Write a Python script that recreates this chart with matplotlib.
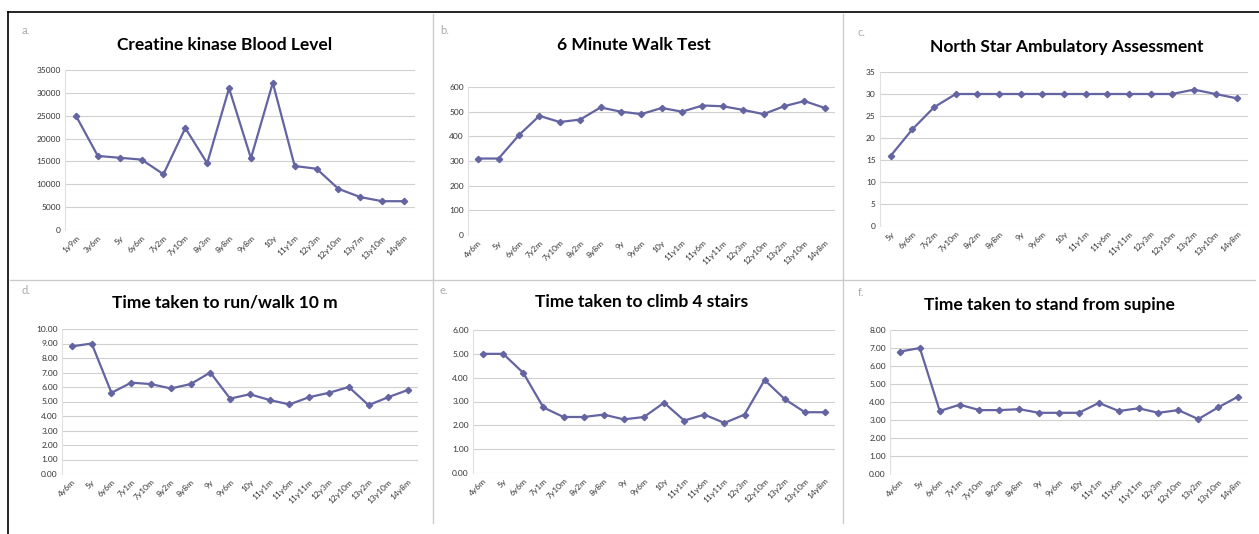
import numpy as np
import matplotlib
matplotlib.use("Agg")
from matplotlib import pyplot as plt

plt.rcParams['font.family'] = ['Lato', 'DejaVu Sans']

# data
ck_labels = ['1y9m','3y6m','5y','6y6m','7y2m','7y10m','8y3m','8y8m','9y8m','10y',
             '11y1m','12y3m','12y10m','13y7m','13y10m','14y8m']
ck_vals = [25000,16200,15800,15400,12200,22300,14600,31000,15700,32200,
           14000,13400,9000,7200,6300,6300]

walk_labels = ['4y6m','5y','6y6m','7y2m','7y10m','8y2m','8y8m','9y','9y6m','10y',
               '11y1m','11y6m','11y11m','12y3m','12y10m','13y2m','13y10m','14y8m']
walk_vals = [310,310,405,483,458,468,517,500,490,515,500,525,522,507,490,522,543,515]

nsaa_labels = ['5y','6y6m','7y2m','7y10m','8y2m','8y8m','9y','9y6m','10y','11y1m',
               '11y6m','11y11m','12y3m','12y10m','13y2m','13y10m','14y8m']
nsaa_vals = [16,22,27,30,30,30,30,30,30,30,30,30,30,30,31,30,29]

time_labels = ['4y6m','5y','6y6m','7y1m','7y10m','8y2m','8y8m','9y','9y6m','10y',
               '11y1m','11y6m','11y11m','12y3m','12y10m','13y2m','13y10m','14y8m']
run_vals = [8.8,9.0,5.6,6.3,6.2,5.9,6.2,7.0,5.2,5.5,5.1,4.8,5.3,5.6,6.0,4.75,5.3,5.8]
stairs_vals = [5.0,5.0,4.2,2.75,2.35,2.35,2.45,2.25,2.35,2.95,2.2,2.45,2.1,2.45,3.9,3.1,2.55,2.55]
stand_vals = [6.8,7.0,3.5,3.85,3.55,3.55,3.6,3.4,3.4,3.4,3.95,3.5,3.65,3.4,3.55,3.05,3.7,4.3]

W, H = 1259, 534
fig = plt.figure(figsize=(W/100, H/100), dpi=100)

def box(l, r, t, b):
    return [l/W, 1-b/H, (r-l)/W, (b-t)/H]

panels = [
    ('a.', 'Creatine kinase Blood Level', ck_labels, ck_vals, (0, 35000, 5000), '%d', box(65, 415, 70, 230), (225, 45)),
    ('b.', '6 Minute Walk Test', walk_labels, walk_vals, (0, 600, 100), '%d', box(468, 835, 87, 235), (634, 45)),
    ('c.', 'North Star Ambulatory Assessment', nsaa_labels, nsaa_vals, (0, 35, 5), '%d', box(880, 1248, 72, 226), (1067, 47)),
    ('d.', 'Time taken to run/walk 10 m', time_labels, run_vals, (0, 10, 1), '%.2f', box(62, 418, 329, 474), (225, 302)),
    ('e.', 'Time taken to climb 4 stairs', time_labels, stairs_vals, (0, 6, 1), '%.2f', box(473, 835, 330, 473), (642, 302)),
    ('f.', 'Time taken to stand from supine', time_labels, stand_vals, (0, 8, 1), '%.2f', box(890, 1248, 330, 474), (1049, 305)),
]
letter_pos = [(22, 30), (440, 30), (858, 32), (22, 290), (440, 290), (858, 292)]

line_col = '#6464a2'
for (letter, title, labels, vals, (ymin, ymax, step), fmt, pos, tpos), lp in zip(panels, letter_pos):
    ax = fig.add_axes(pos)
    x = np.arange(len(vals))
    ax.plot(x, vals, color=line_col, lw=1.6, marker='D', ms=3.2)
    ax.set_ylim(ymin, ymax)
    ax.set_xlim(-0.5, len(vals)-0.5)
    ticks = np.arange(ymin, ymax + step/2, step)
    ax.set_yticks(ticks)
    ax.set_yticklabels([fmt % t for t in ticks], fontsize=6, color='#333333')
    ax.set_xticks(x)
    ax.set_xticklabels(labels, rotation=45, ha='right', rotation_mode='anchor', fontsize=6, color='#333333')
    ax.grid(axis='y', color='#d0d0d0', lw=0.8)
    ax.set_axisbelow(True)
    for s in ['top', 'right', 'bottom']:
        ax.spines[s].set_visible(False)
    ax.spines['left'].set_color('#e0e0e0')
    ax.tick_params(length=0, pad=3)
    fig.text(tpos[0]/W, 1-tpos[1]/H, title, ha='center', va='center', fontsize=12.5, fontweight='bold')
    fig.text(lp[0]/W, 1-lp[1]/H, letter, ha='left', va='center', fontsize=8, color='#aaaaaa')

# panel separators and border
sep = dict(color='#cccccc', lw=1)
fig.add_artist(plt.Line2D([433/W, 433/W], [0.02, 1-14/H], **sep))
fig.add_artist(plt.Line2D([843/W, 843/W], [0.02, 1-14/H], **sep))
fig.add_artist(plt.Line2D([10/W, 1255/W], [1-280/H, 1-280/H], **sep))
fig.add_artist(plt.Line2D([8/W, 1259/W], [1-12/H, 1-12/H], color='black', lw=1.2))
fig.add_artist(plt.Line2D([8/W, 8/W], [0, 1-12/H], color='black', lw=1.2))

fig.savefig('out.png', dpi=100)
